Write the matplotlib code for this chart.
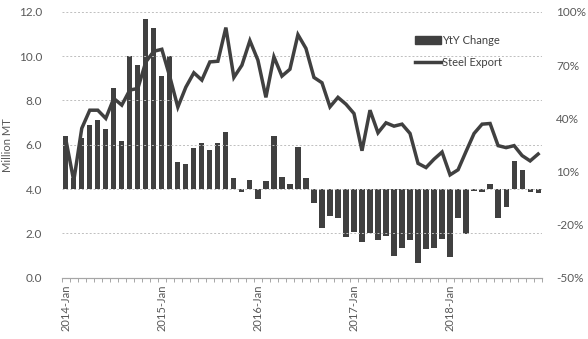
import numpy as np
import matplotlib.pyplot as plt
from matplotlib.patches import Patch
from matplotlib.lines import Line2D

plt.rcParams['font.family'] = ['Lato', 'DejaVu Sans']

# monthly data, 2014-Jan .. 2018-Dec
months = [f"{y}-{m}" for y in range(2014, 2019)
          for m in ["Jan", "Feb", "Mar", "Apr", "May", "Jun",
                    "Jul", "Aug", "Sep", "Oct", "Nov", "Dec"]]

# steel export, million MT
export = [6.26, 4.37, 6.74, 7.56, 7.56, 7.19, 8.09, 7.79, 8.47, 8.54, 9.74, 10.22,
          10.31, 9.07, 7.70, 8.60, 9.25, 8.92, 9.74, 9.77, 11.29, 9.04, 9.59, 10.70,
          9.82, 8.14, 9.97, 9.10, 9.41, 10.97, 10.35, 9.04, 8.80, 7.71, 8.14, 7.83,
          7.41, 5.73, 7.56, 6.54, 6.99, 6.84, 6.93, 6.51, 5.16, 4.97, 5.35, 5.67,
          4.64, 4.87, 5.70, 6.51, 6.93, 6.96, 5.96, 5.87, 5.96, 5.51, 5.27, 5.58]

# year-on-year change, %
yty = [30, 6, 29, 36, 39, 34, 57, 27, 75, 70, 96, 91,
       64, 75, 15, 14, 23, 26, 22, 26, 32, 6, -1.5, 5,
       -5.6, 4.7, 30, 7, 2.8, 24, 6.3, -8, -22, -15, -16.4, -27,
       -24, -30, -25, -28.6, -26.7, -38, -33, -28.5, -41.5, -34, -33.5, -28,
       -38.2, -16.2, -25.2, -1, -1.7, 2.6, -16.2, -9.9, 16, 11, -1.4, -2.1]

dark = '#404040'
txt = '#595959'

fig, ax = plt.subplots(figsize=(5.88, 3.39), dpi=100)
fig.subplots_adjust(left=0.105, right=0.922, top=0.965, bottom=0.181)
ax2 = ax.twinx()

x = np.arange(len(months))

# bars on the percent axis, line on the tonnage axis
ax2.bar(x, yty, width=0.65, color=dark, zorder=2)
ax.plot(x, export, color=dark, lw=2.5, zorder=3, solid_joinstyle='miter')

ax.set_zorder(ax2.get_zorder() + 1)
ax.patch.set_visible(False)

ax.set_xlim(-0.5, len(months) - 0.5)
ax.set_ylim(0, 12)
ax2.set_ylim(-50, 100)

ax.set_yticks(np.arange(0, 12.1, 2))
ax.set_yticklabels([f"{v:.1f}" for v in np.arange(0, 12.1, 2)])
ax2.set_yticks(np.arange(-50, 101, 30))
ax2.set_yticklabels([f"{v}%" for v in range(-50, 101, 30)])

ax.grid(axis='y', color='#bfbfbf', ls=(0, (2, 2)), lw=0.7)
ax.set_axisbelow(True)

ax.set_xticks(x[::12])
ax.set_xticklabels([months[i] for i in range(0, len(months), 12)],
                   rotation=90, fontsize=8, color=txt)
ax.set_xticks(np.arange(-0.5, len(months), 1), minor=True)
ax.tick_params(axis='x', which='major', length=0, pad=5)
ax.tick_params(axis='x', which='minor', length=3, color='#a6a6a6', width=0.7)

ax.tick_params(axis='y', length=0, labelsize=8.5, labelcolor=txt, pad=14)
ax2.tick_params(axis='y', length=0, labelsize=8.5, labelcolor=txt, pad=10)

for a in (ax, ax2):
    for s in ('top', 'left', 'right'):
        a.spines[s].set_visible(False)
    a.spines['bottom'].set_color('#a6a6a6')
    a.spines['bottom'].set_linewidth(0.8)

ax.set_ylabel('Million MT', fontsize=8, color=txt, labelpad=4)

handles = [Patch(facecolor=dark, edgecolor=dark),
           Line2D([0], [0], color=dark, lw=2.5)]
ax.legend(handles, ['YtY Change', 'Steel Export'], loc='upper left',
          bbox_to_anchor=(0.715, 0.95), frameon=False, fontsize=8,
          handlelength=2.3, handleheight=0.7, handletextpad=0.15,
          labelspacing=1.0, labelcolor=dark)

fig.savefig('out.png', dpi=100)
